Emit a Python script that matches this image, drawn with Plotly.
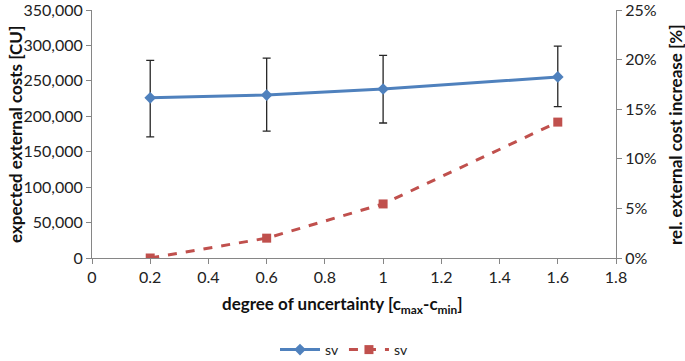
import plotly.graph_objects as go

x_vals = [0.2, 0.6, 1.0, 1.6]
cost_vals = [226000, 230000, 238500, 255500]
err_plus = [53000, 52000, 47500, 43500]
err_minus = [55000, 51000, 48000, 42000]
rel_increase = [0.0, 2.0, 5.45, 13.7]
series_names = ["sv", "sv"]

blue = "#4F81BD"
red = "#C0504D"
font_family = "Lato, 'Open Sans', sans-serif"

fig = go.Figure()
fig.add_trace(go.Scatter(
    x=x_vals, y=cost_vals, name=series_names[0], mode="lines+markers",
    line=dict(color=blue, width=3),
    marker=dict(symbol="diamond", size=9, color=blue),
    error_y=dict(type="data", symmetric=False, array=err_plus, arrayminus=err_minus,
                 color="#262626", thickness=1.3, width=4),
))
fig.add_trace(go.Scatter(
    x=x_vals, y=rel_increase, name=series_names[1], mode="lines+markers", yaxis="y2",
    line=dict(color=red, width=3, dash="dash"),
    marker=dict(symbol="square", size=9, color=red),
))

axis_common = dict(showgrid=False, showline=True, linecolor="#868686", linewidth=1,
                   ticks="outside", tickcolor="#868686", ticklen=5, zeroline=False,
                   automargin=False, ticklabeloverflow="allow",
                   tickfont=dict(family=font_family, size=16, color="#222"))

L, R, T, B = 92, 69, 10, 103
W, H = 685, 361
pw, ph = W - L - R, H - T - B

def px_x(p):
    return (p - L) / pw

def px_y(p):
    return (H - B - p) / ph

title_font = dict(size=17, family=font_family, color="#111")

fig.update_layout(
    width=W, height=H,
    margin=dict(l=L, r=R, t=T, b=B, autoexpand=False),
    paper_bgcolor="white", plot_bgcolor="white",
    font=dict(family=font_family, color="#222"),
    xaxis=dict(range=[0, 1.8], tickvals=[0, 0.2, 0.4, 0.6, 0.8, 1.0, 1.2, 1.4, 1.6, 1.8],
               ticktext=["0", "0.2", "0.4", "0.6", "0.8", "1", "1.2", "1.4", "1.6", "1.8"],
               **axis_common),
    yaxis=dict(range=[0, 350000], tickvals=list(range(0, 350001, 50000)),
               tickformat=",d", **axis_common),
    yaxis2=dict(range=[0, 25], tickvals=[0, 5, 10, 15, 20, 25],
                ticktext=["0%", "5%", "10%", "15%", "20%", "25%"],
                overlaying="y", side="right", **axis_common),
    legend=dict(orientation="h", x=px_x(344), xanchor="center", y=px_y(350), yanchor="middle",
                font=dict(size=14, family=font_family), itemwidth=40,
                tracegroupgap=0),
    showlegend=True,
    annotations=[
        dict(text="<b>degree of uncertainty [c<sub>max</sub>-c<sub>min</sub>]</b>",
             xref="paper", yref="paper", x=px_x(342), y=px_y(305),
             xanchor="center", yanchor="middle", showarrow=False, font=title_font),
        dict(text="<b>expected external costs [CU]</b>",
             xref="paper", yref="paper", x=px_x(15), y=px_y(135),
             xanchor="center", yanchor="middle", showarrow=False, textangle=-90,
             font=title_font),
        dict(text="<b>rel. external cost increase [%]</b>",
             xref="paper", yref="paper", x=px_x(675), y=px_y(135),
             xanchor="center", yanchor="middle", showarrow=False, textangle=-90,
             font=title_font),
    ],
)

fig.write_html("out.html", config={"displayModeBar": False},
               post_script="document.body.style.margin='0';")
